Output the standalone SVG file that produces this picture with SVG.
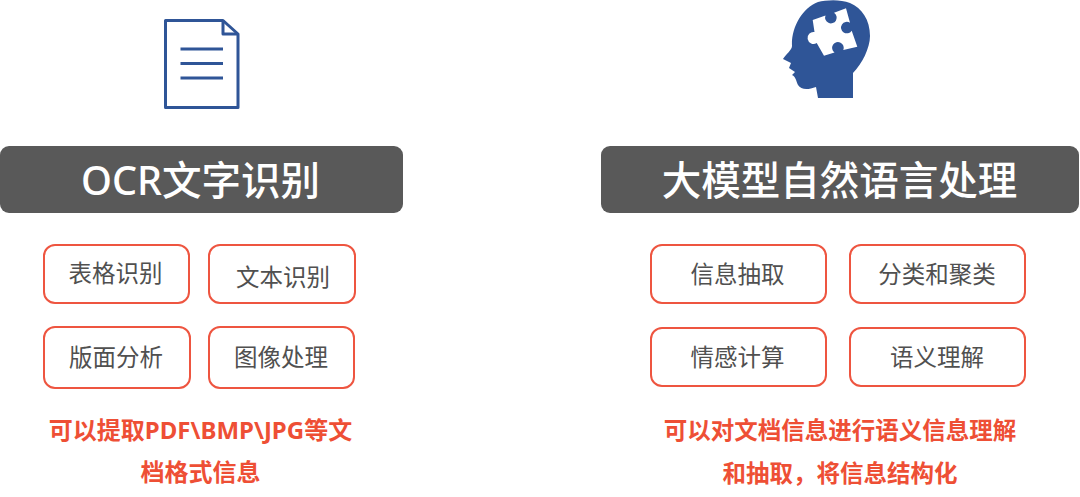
<svg xmlns="http://www.w3.org/2000/svg" width="1080" height="497" viewBox="0 0 1080 497">
<style>
text{text-anchor:middle;font-family:"Noto Sans","Noto Sans CJK SC",sans-serif}
.hd{fill:#595959}
.ht{fill:#fff;font-size:39.500px;font-weight:500}
.b{fill:#fff;stroke:#ee5540;stroke-width:2}
.bt{fill:#505050;font-size:23.500px}
.rt{fill:#ee4f35;font-size:23.500px;font-weight:700}
.rl{font-size:24px}
.ic{fill:none;stroke:#2f5597;stroke-width:3;stroke-linejoin:round}
</style>
<g id="doc-icon">
<path class="ic" d="M165.500 20.500H223L238 34V107.500H165.500Z"/>
<path class="ic" d="M223 20.500V34H238"/>
<path class="ic" d="M180.500 49H223M180.500 63.500H223M180.500 78H223"/>
</g>
<g id="head-icon">
<path fill="#2f5597" d="M818 2C826 0 840 -1 850 3C862 8 870 20 870 36C870 48 862 64 853 73V98H818L816 87C808 90 801 90 798 85C796 81 796 77 792 75L795 72L789 68L791 63L783 59C786 54 792 50 792 46C791 28 802 8 818 2Z"/>
<path fill="#fff" d="M812.700 20L825.500 15.500A5.800 5.800 0 1 0 834 12.700L846 8.300L850 22.700A5.800 5.800 0 1 0 851.700 30.700L857.300 46.700L843.300 50A5.800 5.800 0 1 0 834.500 52.500L824 55.700L816.700 43A6 6 0 1 1 814.500 32Z"/>
</g>
<g id="ocr-header"><rect class="hd" x="0" y="146" width="403" height="67" rx="9"/><text class="ht" x="200.500" y="195">OCR文字识别</text></g>
<g id="nlp-header"><rect class="hd" x="601" y="146" width="478" height="67" rx="9"/><text class="ht" x="839.500" y="195">大模型自然语言处理</text></g>
<g id="n1"><rect class="b" x="44" y="245" width="145" height="58" rx="11"/><text class="bt" x="115.500" y="282">表格识别</text></g>
<g id="n2"><rect class="b" x="209" y="245" width="146" height="58" rx="11"/><text class="bt" x="283" y="286">文本识别</text></g>
<g id="n3"><rect class="b" x="44" y="327" width="146" height="61" rx="11"/><text class="bt" x="116" y="366">版面分析</text></g>
<g id="n4"><rect class="b" x="209" y="327" width="145" height="61" rx="11"/><text class="bt" x="281" y="366">图像处理</text></g>
<g id="n5"><rect class="b" x="651" y="245" width="175" height="58" rx="11"/><text class="bt" x="737.500" y="283">信息抽取</text></g>
<g id="n6"><rect class="b" x="850" y="245" width="175" height="58" rx="11"/><text class="bt" x="937" y="283">分类和聚类</text></g>
<g id="n7"><rect class="b" x="651" y="328" width="175" height="58" rx="11"/><text class="bt" x="737.500" y="366">情感计算</text></g>
<g id="n8"><rect class="b" x="850" y="328" width="175" height="58" rx="11"/><text class="bt" x="937" y="366">语义理解</text></g>
<g id="ocr-note"><text class="rt rl" x="200.500" y="439">可以提取PDF\BMP\JPG等文</text><text class="rt rl" x="200.500" y="481">档格式信息</text></g>
<g id="nlp-note"><text class="rt" x="840" y="439">可以对文档信息进行语义信息理解</text><text class="rt" x="840" y="482">和抽取，将信息结构化</text></g>
<g id="connectors"></g>
</svg>
